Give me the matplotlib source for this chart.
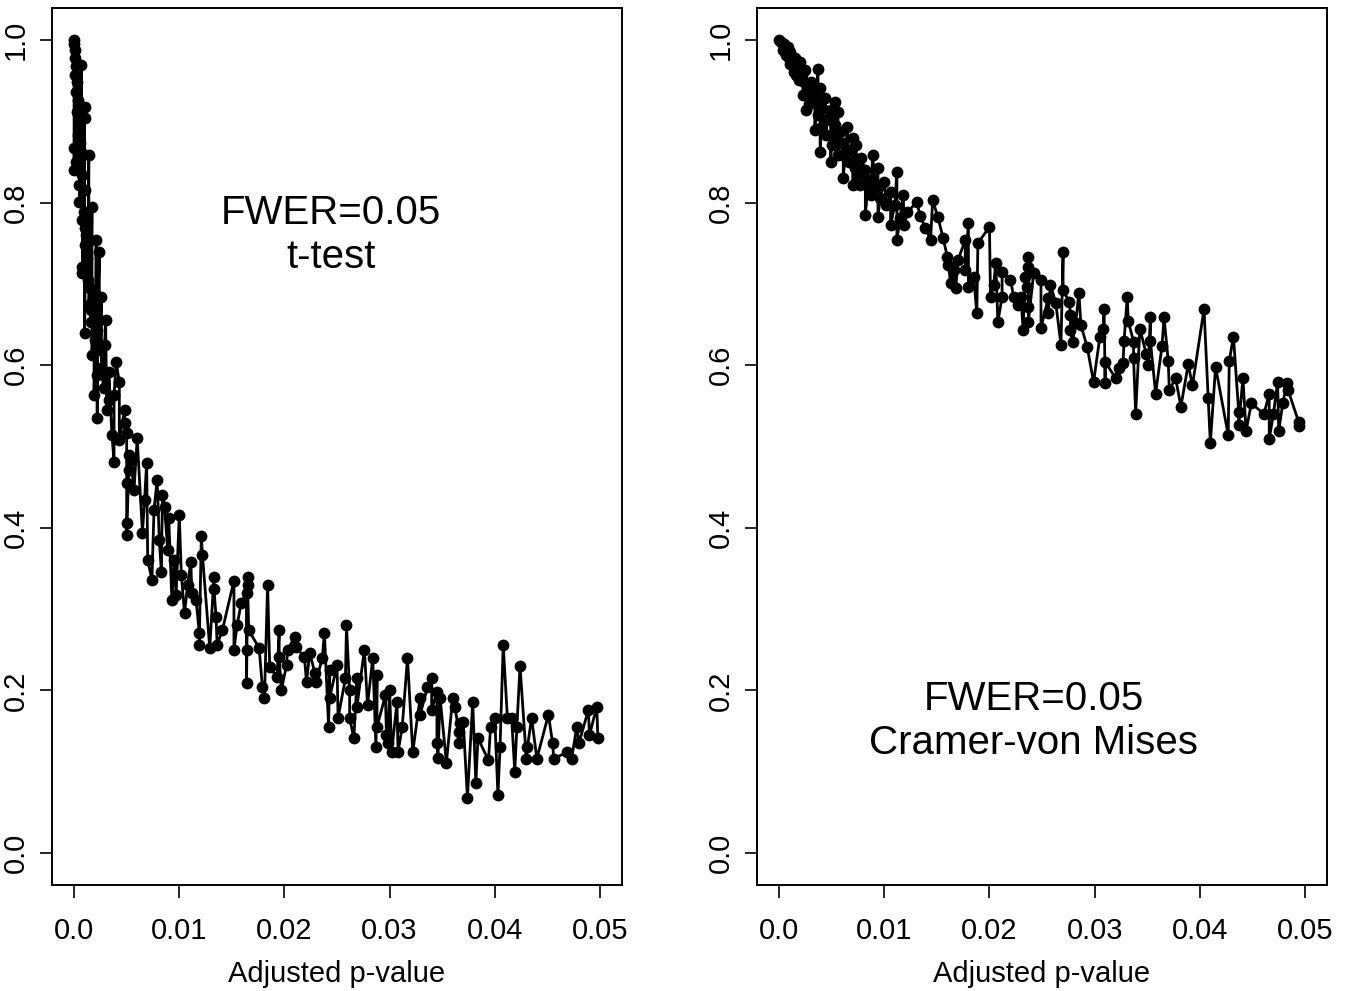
"""Power vs adjusted p-value, t-test and Cramer-von Mises (FWER=0.05)."""

import matplotlib
matplotlib.use("Agg")
import matplotlib.pyplot as plt
import numpy as np

plt.rcParams["font.family"] = ["Liberation Sans", "DejaVu Sans"]

# left panel: t-test
ttest_p = [
    0.0000, 0.0000, 0.0001, 0.0001, 0.0002, 0.0001, 0.0003, 0.0002, 0.0004, 0.0007,
    0.0003, 0.0010, 0.0010, 0.0005, 0.0004, 0.0006, 0.0000, 0.0007, 0.0014, 0.0002,
    0.0000, 0.0008, 0.0005, 0.0010, 0.0005, 0.0017, 0.0009, 0.0008, 0.0010, 0.0011,
    0.0021, 0.0010, 0.0024, 0.0012, 0.0008, 0.0008, 0.0013, 0.0015, 0.0019, 0.0026,
    0.0014, 0.0016, 0.0030, 0.0010, 0.0020, 0.0024, 0.0017, 0.0040, 0.0026, 0.0022,
    0.0043, 0.0028, 0.0019, 0.0033, 0.0048, 0.0022, 0.0048, 0.0036, 0.0050, 0.0060,
    0.0038, 0.0054, 0.0069, 0.0050, 0.0057, 0.0079, 0.0084, 0.0086, 0.0100, 0.0050,
    0.0050, 0.0065, 0.0090, 0.0070, 0.0074, 0.0083, 0.0121, 0.0122, 0.0111, 0.0093,
    0.0105, 0.0097, 0.0112, 0.0052, 0.0067, 0.0076, 0.0081, 0.0089, 0.0095, 0.0102,
    0.0108, 0.0116, 0.0016, 0.0022, 0.0029, 0.0033, 0.0038, 0.0031, 0.0043, 0.0052,
    0.0133, 0.0133, 0.0152, 0.0165, 0.0165, 0.0184, 0.0119, 0.0119, 0.0129, 0.0135,
    0.0136, 0.0141, 0.0152, 0.0155, 0.0159, 0.0164, 0.0166, 0.0164, 0.0164, 0.0176,
    0.0179, 0.0181, 0.0186, 0.0195, 0.0195, 0.0193, 0.0197, 0.0202, 0.0203, 0.0210,
    0.0211, 0.0219, 0.0224, 0.0221, 0.0229, 0.0230, 0.0238, 0.0236, 0.0243, 0.0243,
    0.0242, 0.0250, 0.0251, 0.0259, 0.0258, 0.0262, 0.0262, 0.0266, 0.0269, 0.0269,
    0.0276, 0.0279, 0.0284, 0.0288, 0.0288, 0.0287, 0.0296, 0.0300, 0.0297, 0.0298,
    0.0307, 0.0302, 0.0308, 0.0312, 0.0317, 0.0322, 0.0329, 0.0329, 0.0336, 0.0340,
    0.0340, 0.0345, 0.0348, 0.0345, 0.0346, 0.0354, 0.0360, 0.0362, 0.0367, 0.0366,
    0.0366, 0.0370, 0.0379, 0.0374, 0.0382, 0.0384, 0.0394, 0.0396, 0.0400, 0.0405,
    0.0403, 0.0408, 0.0412, 0.0416, 0.0421, 0.0419, 0.0424, 0.0435, 0.0431, 0.0430,
    0.0440, 0.0451, 0.0455, 0.0456, 0.0469, 0.0473, 0.0478, 0.0480, 0.0489, 0.0490,
    0.0497, 0.0498,
]
ttest_y = [
    1.000, 0.995, 0.988, 0.978, 0.968, 0.957, 0.948, 0.936, 0.926, 0.969,
    0.911, 0.918, 0.904, 0.895, 0.883, 0.873, 0.867, 0.862, 0.859, 0.850,
    0.840, 0.834, 0.822, 0.816, 0.801, 0.795, 0.788, 0.779, 0.769, 0.760,
    0.754, 0.748, 0.739, 0.732, 0.721, 0.713, 0.705, 0.695, 0.690, 0.684,
    0.674, 0.653, 0.656, 0.640, 0.631, 0.619, 0.613, 0.604, 0.597, 0.588,
    0.579, 0.572, 0.563, 0.557, 0.545, 0.535, 0.529, 0.514, 0.517, 0.510,
    0.481, 0.483, 0.480, 0.455, 0.447, 0.459, 0.440, 0.426, 0.416, 0.406,
    0.391, 0.394, 0.412, 0.360, 0.336, 0.346, 0.390, 0.367, 0.358, 0.311,
    0.295, 0.317, 0.320, 0.471, 0.434, 0.422, 0.385, 0.373, 0.360, 0.342,
    0.330, 0.311, 0.668, 0.643, 0.625, 0.592, 0.563, 0.545, 0.508, 0.490,
    0.340, 0.325, 0.335, 0.340, 0.330, 0.330, 0.271, 0.256, 0.252, 0.290,
    0.256, 0.274, 0.250, 0.280, 0.308, 0.320, 0.274, 0.250, 0.209, 0.252,
    0.204, 0.191, 0.229, 0.274, 0.241, 0.216, 0.200, 0.231, 0.250, 0.266,
    0.253, 0.241, 0.246, 0.210, 0.221, 0.210, 0.271, 0.240, 0.225, 0.191,
    0.155, 0.231, 0.166, 0.280, 0.215, 0.200, 0.166, 0.141, 0.215, 0.180,
    0.250, 0.182, 0.240, 0.219, 0.155, 0.130, 0.194, 0.200, 0.145, 0.135,
    0.186, 0.124, 0.124, 0.155, 0.240, 0.124, 0.191, 0.170, 0.204, 0.215,
    0.176, 0.198, 0.191, 0.135, 0.117, 0.111, 0.191, 0.180, 0.160, 0.149,
    0.135, 0.161, 0.186, 0.068, 0.086, 0.141, 0.114, 0.155, 0.166, 0.130,
    0.071, 0.256, 0.166, 0.166, 0.155, 0.100, 0.230, 0.166, 0.130, 0.116,
    0.116, 0.170, 0.135, 0.116, 0.124, 0.116, 0.155, 0.135, 0.176, 0.145,
    0.180, 0.141,
]

# right panel: Cramer-von Mises
cvm_p = [
    0.0000, 0.0002, 0.0005, 0.0004, 0.0008, 0.0007, 0.0010, 0.0012, 0.0010, 0.0015,
    0.0017, 0.0014, 0.0020, 0.0022, 0.0019, 0.0025, 0.0027, 0.0030, 0.0023, 0.0031,
    0.0037, 0.0034, 0.0039, 0.0028, 0.0041, 0.0044, 0.0053, 0.0037, 0.0047, 0.0049,
    0.0039, 0.0053, 0.0056, 0.0058, 0.0065, 0.0045, 0.0070, 0.0061, 0.0050, 0.0039,
    0.0068, 0.0073, 0.0056, 0.0078, 0.0089, 0.0066, 0.0072, 0.0061, 0.0082, 0.0085,
    0.0094, 0.0112, 0.0077, 0.0091, 0.0100, 0.0106, 0.0096, 0.0118, 0.0082, 0.0094,
    0.0110, 0.0131, 0.0146, 0.0122, 0.0134, 0.0151, 0.0139, 0.0119, 0.0112, 0.0144,
    0.0009, 0.0016, 0.0024, 0.0031, 0.0026, 0.0045, 0.0034, 0.0053, 0.0060, 0.0049,
    0.0075, 0.0070, 0.0087, 0.0102, 0.0115, 0.0106,
    0.0156, 0.0160, 0.0161, 0.0163, 0.0166, 0.0168, 0.0170, 0.0177, 0.0177, 0.0180,
    0.0180, 0.0185, 0.0188, 0.0189, 0.0200, 0.0201, 0.0204, 0.0206, 0.0208, 0.0212,
    0.0212, 0.0220, 0.0223, 0.0227, 0.0230, 0.0232, 0.0234, 0.0236, 0.0237, 0.0237,
    0.0237, 0.0237, 0.0242, 0.0249, 0.0249, 0.0256, 0.0256, 0.0258, 0.0263, 0.0268,
    0.0270, 0.0270, 0.0276, 0.0277, 0.0277, 0.0279, 0.0282, 0.0285, 0.0287, 0.0293,
    0.0299, 0.0305, 0.0308, 0.0309, 0.0310, 0.0310, 0.0320, 0.0323, 0.0327, 0.0328,
    0.0331, 0.0332, 0.0337, 0.0337, 0.0339, 0.0343, 0.0349, 0.0351, 0.0353, 0.0353,
    0.0358, 0.0364, 0.0366, 0.0370, 0.0371, 0.0377, 0.0382, 0.0389, 0.0393, 0.0404,
    0.0408, 0.0410, 0.0415, 0.0427, 0.0428, 0.0432, 0.0437, 0.0437, 0.0441, 0.0444,
    0.0449, 0.0461, 0.0466, 0.0466, 0.0470, 0.0474, 0.0475, 0.0479, 0.0483, 0.0484,
    0.0494, 0.0494,
]
cvm_y = [
    1.000, 0.998, 0.995, 0.988, 0.991, 0.982, 0.985, 0.975, 0.970, 0.978,
    0.967, 0.961, 0.973, 0.957, 0.951, 0.963, 0.939, 0.948, 0.932, 0.936,
    0.964, 0.926, 0.941, 0.921, 0.916, 0.929, 0.924, 0.908, 0.904, 0.914,
    0.892, 0.895, 0.911, 0.887, 0.893, 0.883, 0.879, 0.873, 0.871, 0.862,
    0.865, 0.871, 0.859, 0.855, 0.859, 0.850, 0.843, 0.830, 0.840, 0.828,
    0.843, 0.838, 0.822, 0.818, 0.825, 0.813, 0.806, 0.809, 0.785, 0.782,
    0.797, 0.801, 0.803, 0.788, 0.784, 0.782, 0.769, 0.772, 0.754, 0.754,
    0.978, 0.957, 0.948, 0.926, 0.914, 0.902, 0.889, 0.877, 0.859, 0.850,
    0.834, 0.822, 0.809, 0.797, 0.781, 0.772,
    0.756, 0.733, 0.723, 0.701, 0.717, 0.695, 0.729, 0.754, 0.717, 0.775,
    0.696, 0.708, 0.664, 0.750, 0.770, 0.684, 0.699, 0.726, 0.653, 0.684,
    0.715, 0.705, 0.684, 0.674, 0.684, 0.643, 0.708, 0.696, 0.733, 0.721,
    0.672, 0.653, 0.713, 0.705, 0.646, 0.683, 0.664, 0.699, 0.677, 0.625,
    0.739, 0.692, 0.678, 0.662, 0.643, 0.628, 0.652, 0.689, 0.649, 0.622,
    0.579, 0.635, 0.645, 0.669, 0.578, 0.604, 0.584, 0.597, 0.603, 0.630,
    0.684, 0.654, 0.629, 0.609, 0.540, 0.645, 0.614, 0.600, 0.659, 0.630,
    0.565, 0.623, 0.659, 0.605, 0.569, 0.584, 0.549, 0.601, 0.575, 0.669,
    0.560, 0.504, 0.598, 0.514, 0.605, 0.635, 0.542, 0.526, 0.584, 0.519,
    0.553, 0.540, 0.565, 0.509, 0.540, 0.579, 0.519, 0.554, 0.578, 0.569,
    0.530, 0.525,
]

panel_titles = ["FWER=0.05\nt-test", "FWER=0.05\nCramer-von Mises"]
title_pos = [(0.0244, 0.76), (0.0242, 0.162)]

x_ticks = [0.0, 0.01, 0.02, 0.03, 0.04, 0.05]
x_ticklabels = ["0.0", "0.01", "0.02", "0.03", "0.04", "0.05"]
y_ticks = [0.0, 0.2, 0.4, 0.6, 0.8, 1.0]
y_ticklabels = ["0.0", "0.2", "0.4", "0.6", "0.8", "1.0"]


def _draw_panel(ax, pvals, power, label, pos):
    pvals = np.asarray(pvals)
    power = np.asarray(power)
    order = np.argsort(pvals, kind="stable")
    ax.plot(pvals[order], power[order], color="black", linewidth=2.0,
            marker="o", markersize=8.5, markeredgewidth=0)
    ax.set_xlim(-0.0021, 0.0521)
    ax.set_ylim(-0.0394, 1.0394)
    ax.set_xticks(x_ticks)
    ax.set_xticklabels(x_ticklabels)
    ax.set_yticks(y_ticks)
    ax.set_yticklabels(y_ticklabels, rotation=90, va="center")
    ax.tick_params(direction="out", length=9, width=1.2, labelsize=21, pad=7)
    ax.tick_params(axis="x", pad=14)
    for spine in ax.spines.values():
        spine.set_linewidth(1.4)
    ax.set_xlabel("Adjusted p-value", fontsize=21, labelpad=11)
    ax.text(pos[0], pos[1], label, ha="center", va="center",
            fontsize=29, linespacing=1.2)


def main() -> None:
    fig = plt.figure(figsize=(13.47, 9.91), dpi=100)
    ax_left = fig.add_axes([0.0386, 0.107, 0.4232, 0.885])
    ax_right = fig.add_axes([0.562, 0.107, 0.4232, 0.885])

    _draw_panel(ax_left, ttest_p, ttest_y, panel_titles[0], title_pos[0])
    _draw_panel(ax_right, cvm_p, cvm_y, panel_titles[1], title_pos[1])

    fig.savefig("out.png", dpi=100)
    plt.close(fig)


if __name__ == "__main__":
    main()
